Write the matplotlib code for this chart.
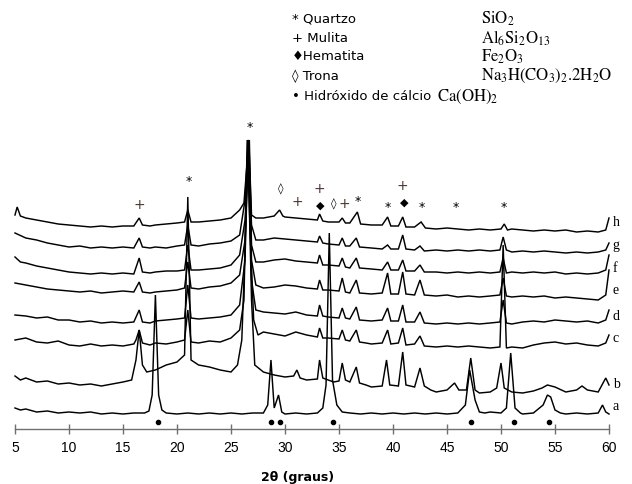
import matplotlib
matplotlib.use("Agg")
import matplotlib.pyplot as plt

plt.rcParams['mathtext.fontset'] = 'stix'

# ---------------- data (2theta in degrees, intensity in a.u.) ----------------
trace_labels = ['a', 'b', 'c', 'd', 'e', 'f', 'g', 'h']
# vertical stacking offsets of each pattern (a.u.)
offsets = [69, 94, 139, 162, 189, 212, 234, 256]

a_x = [5, 5.5, 6, 7, 8, 9, 10, 11, 12, 13, 14, 15, 16, 17, 17.4, 17.7, 18.0, 18.3, 18.6, 19,
       20, 21, 22, 23, 24, 25, 26, 27, 28, 28.4, 28.7, 29.0, 29.4, 29.7, 30, 31, 32, 33, 33.5, 33.8,
       34.1, 34.4, 34.8, 35.3, 36, 37, 38, 39, 40, 41, 42, 43, 44, 45, 46, 46.7, 47.1, 47.6, 48, 48.5,
       49, 50, 50.5, 50.9, 51.3, 51.8, 52, 53, 53.9, 54.3, 54.6, 55, 55.5, 56, 57, 58, 59, 59.4, 59.7, 60]
a_y = [7, 5, 6, 3, 4, 2, 3, 2, 3, 1, 2, 1, 2, 2, 4, 20, 120, 20, 5, 2,
       1, 2, 1, 2, 1, 2, 1, 2, 2, 10, 55, 7, 20, 3, 1, 2, 1, 2, 7, 30,
       182, 35, 10, 3, 2, 1, 2, 1, 2, 1, 2, 1, 2, 1, 2, 10, 45, 15, 3, 2,
       3, 2, 7, 62, 7, 2, 1, 2, 10, 20, 18, 5, 2, 1, 2, 1, 2, 10, 3, 1]

b_x = [5, 5.5, 6, 7, 8, 9, 10, 11, 12, 13, 14, 15, 15.8, 16.2, 16.5, 16.8, 17.2, 18, 19, 20,
       20.7, 21.0, 21.3, 22, 23, 24, 25, 25.6, 26.0, 26.3, 26.55, 26.9, 27.2, 28, 29, 30, 30.8, 31.1, 31.4, 32,
       33, 33.2, 33.5, 34, 34.5, 35, 35.3, 35.6, 36, 36.6, 36.9, 37.5, 38, 39, 39.4, 39.7, 40.5, 40.9, 41.2, 42,
       42.5, 42.9, 43.5, 44, 45, 45.7, 46.1, 46.8, 47.2, 47.6, 48, 49, 49.6, 50.0, 50.3, 51, 52, 53, 53.8, 54.3,
       55, 56, 57, 57.5, 58, 59, 59.5, 59.7, 60]
b_y = [14, 10, 12, 8, 9, 6, 7, 5, 6, 4, 6, 8, 10, 30, 60, 25, 18, 20, 25, 28,
       35, 193, 30, 25, 23, 20, 18, 25, 50, 140, 250, 90, 25, 18, 15, 13, 14, 20, 12, 10,
       11, 30, 12, 10, 8, 9, 27, 10, 8, 23, 7, 5, 3, 4, 30, 5, 4, 38, 5, 3,
       22, 4, 0, -2, 0, 7, 0, 0, 32, 0, -3, -2, 2, 27, 2, -2, -3, -1, 2, 5,
       3, -2, 0, 4, 0, -2, 8, 12, 5]

c_x = [5, 6, 7, 8, 9, 10, 11, 12, 13, 14, 15, 16, 16.2, 16.5, 16.8, 17.5, 18, 19, 20, 20.7,
       21.0, 21.3, 22, 23, 24, 25, 25.8, 26.2, 26.5, 26.8, 27.1, 27.5, 28, 29, 30, 31, 32, 33, 33.2, 33.5,
       34, 35, 35.3, 35.6, 36, 36.6, 36.9, 37.5, 38, 39, 39.5, 39.8, 40.5, 40.9, 41.2, 42, 42.5, 42.9, 44, 45,
       46, 47, 48, 49, 49.9, 50.2, 50.5, 51, 52, 53, 54, 55, 56, 57, 58, 59, 59.7, 60]
c_y = [5, 7, 3, 2, 4, 0, -1, 1, -1, 0, -1, 1, 5, 15, 2, 0, 2, 1, 3, 5,
       35, 3, 2, 4, 3, 7, 15, 45, 205, 105, 25, 10, 13, 11, 9, 13, 10, 8, 17, 7,
       7, 6, 15, 5, 4, 15, 3, 2, 1, 2, 15, 1, 2, 17, 0, 1, 9, -1, -2, -1,
       -2, -1, -2, -3, -2, 100, -3, -2, -3, 0, 2, 3, 1, 2, 0, -1, 2, 10]

d_x = [5, 6, 7, 8, 9, 10, 11, 12, 13, 14, 15, 16, 16.5, 16.8, 17.5, 18, 19, 20, 20.7, 21.0,
       21.3, 22, 23, 24, 25, 25.8, 26.3, 26.6, 26.9, 27.3, 28, 29, 30, 31, 32, 33, 33.2, 33.5, 34, 35,
       35.3, 35.6, 36, 36.6, 36.9, 38, 39, 39.5, 39.8, 40.5, 40.9, 41.2, 42, 42.5, 42.9, 44, 45, 46, 47, 48,
       49, 49.9, 50.2, 50.5, 51, 52, 53, 54, 55, 56, 57, 58, 59, 59.7, 60]
d_y = [7, 6, 4, 5, 2, 2, 0, 1, -1, 0, -1, 0, 12, 0, -1, 1, 2, 3, 4, 37,
       4, 3, 4, 5, 7, 17, 62, 182, 42, 12, 10, 9, 8, 10, 7, 6, 17, 6, 5, 4,
       14, 4, 3, 15, 2, 1, 2, 14, 1, 1, 17, 0, 0, 10, -1, -2, -1, -2, -1, -2,
       -1, 0, 22, -1, -2, 0, 1, 0, 2, 1, 0, 1, -1, 2, 12]

e_x = [5, 6, 7, 8, 9, 10, 11, 12, 13, 14, 15, 16, 16.5, 16.8, 17.5, 18, 19, 20, 20.7, 21.0,
       21.3, 22, 23, 24, 25, 25.8, 26.3, 26.65, 26.9, 27.3, 28, 29, 30, 31, 32, 33, 33.2, 33.5, 34, 35,
       35.3, 35.6, 36, 36.6, 36.9, 38, 39, 39.5, 39.8, 40.5, 40.9, 41.2, 42, 42.5, 42.9, 44, 45, 46, 47, 48,
       49, 49.9, 50.2, 50.5, 51, 52, 53, 54, 55, 56, 57, 58, 59, 59.7, 60]
e_y = [12, 10, 8, 6, 5, 4, 3, 4, 2, 3, 4, 3, 13, 3, 2, 3, 4, 5, 7, 33,
       7, 6, 8, 9, 12, 20, 55, 155, 35, 10, 7, 8, 10, 9, 7, 6, 15, 5, 5, 4,
       17, 3, 2, 15, 2, 1, 2, 22, 1, 1, 23, 1, 0, 15, 0, -1, 0, -2, -1, -2,
       -1, 0, 17, -1, -2, -1, -2, -1, -3, -2, -3, -4, -5, 0, 25]

f_x = [5, 5.5, 6, 7, 8, 9, 10, 11, 12, 13, 14, 15, 16, 16.5, 16.8, 17.5, 18, 19, 20, 20.7,
       21.0, 21.3, 22, 23, 24, 25, 25.8, 26.3, 26.7, 26.9, 27.3, 28, 29, 30, 31, 32, 33, 33.2, 33.5, 34,
       35, 35.3, 35.6, 36, 36.6, 36.9, 38, 39, 39.5, 39.8, 40.5, 40.9, 41.2, 42, 42.5, 42.9, 44, 45, 46, 47,
       48, 49, 49.9, 50.2, 50.5, 51, 52, 53, 54, 55, 56, 57, 58, 59, 59.7, 60]
f_y = [15, 10, 9, 6, 4, 2, 0, -1, -2, -1, -2, -1, -2, 14, 0, -1, 0, 1, 1, 2,
       27, 2, 2, 3, 4, 7, 17, 52, 132, 27, 10, 10, 12, 13, 11, 10, 9, 17, 7, 7,
       6, 14, 5, 4, 14, 4, 3, 2, 10, 2, 2, 12, 1, 1, 7, 0, 0, -1, 0, -1,
       0, -1, 0, 14, -1, 0, -1, 0, -1, 0, -2, -1, -2, -1, 2, 17]

g_x = [5, 6, 7, 8, 9, 10, 11, 12, 13, 14, 15, 16, 16.5, 16.8, 17.5, 18, 19, 20, 20.7, 21.0,
       21.3, 22, 23, 24, 25, 25.8, 26.3, 26.6, 26.9, 27.3, 28, 29, 30, 31, 32, 33, 33.2, 33.5, 34, 35,
       35.3, 35.6, 36, 36.6, 36.9, 38, 39, 39.5, 39.8, 40.5, 40.9, 41.2, 42, 42.5, 42.9, 44, 45, 46, 47, 48,
       49, 49.9, 50.2, 50.5, 51, 52, 53, 54, 55, 56, 57, 58, 59, 59.7, 60]
g_y = [17, 12, 10, 7, 5, 3, 4, 2, 3, 2, 3, 2, 12, 3, 2, 3, 2, 4, 5, 25,
       5, 4, 6, 7, 9, 15, 50, 110, 25, 10, 10, 12, 11, 10, 9, 8, 14, 7, 6, 5,
       12, 4, 4, 12, 3, 2, 1, 5, 1, 1, 15, 1, 0, 4, -1, 0, -1, 0, -1, 0,
       -1, 0, 13, 0, -2, -1, -2, -1, -2, -3, -2, -3, -2, 0, 7]

h_x = [5, 5.2, 5.5, 6, 7, 8, 9, 10, 11, 12, 13, 14, 15, 16, 16.5, 16.8, 17.5, 18, 19, 20,
       20.7, 21.0, 21.3, 22, 23, 24, 25, 25.8, 26.2, 26.65, 26.9, 27.3, 28, 29, 29.5, 29.8, 30, 31, 32, 33,
       33.2, 33.5, 34, 35, 35.3, 35.6, 36, 36.7, 37, 38, 39, 39.5, 39.8, 40.5, 40.9, 41.2, 42, 42.6, 43, 44,
       45, 46, 47, 48, 49, 50, 50.3, 50.6, 51, 52, 53, 54, 55, 56, 57, 58, 59, 59.7, 60]
h_y = [13, 21, 12, 10, 8, 6, 4, 3, 2, 1, 2, 1, 2, 2, 10, 3, 2, 3, 4, 5,
       6, 18, 6, 6, 7, 8, 10, 18, 25, 88, 13, 10, 10, 12, 18, 12, 11, 10, 9, 8,
       14, 7, 6, 6, 10, 5, 5, 16, 4, 3, 3, 11, 2, 2, 11, 1, 1, 6, 0, -1,
       0, -1, -2, -1, -2, -1, 4, -2, -1, -2, -3, -2, -3, -2, -4, -3, -4, -2, 10]

traces_x = [a_x, b_x, c_x, d_x, e_x, f_x, g_x, h_x]
traces_y = [a_y, b_y, c_y, d_y, e_y, f_y, g_y, h_y]

# phase identification marks: (symbol, 2theta, height a.u.)
phase_marks = [('+', 16.5, 279), ('*', 21.1, 302), ('*', 26.7, 357), ('\u25CA', 29.6, 295),
               ('+', 31.1, 282), ('+', 33.2, 295), ('\u25C6', 33.3, 278), ('\u25CA', 34.5, 280),
               ('+', 35.5, 280), ('*', 36.7, 283), ('*', 39.5, 277), ('+', 40.9, 298),
               ('\u25C6', 41.0, 281), ('*', 42.7, 277), ('*', 45.8, 277), ('*', 50.3, 276)]
caoh2_pos = [18.2, 28.7, 29.5, 34.4, 47.2, 51.2, 54.4]
caoh2_level = 62

xticks = [5, 10, 15, 20, 25, 30, 35, 40, 45, 50, 55, 60]

legend_names = ['* Quartzo', '+ Mulita', '\u2666Hematita', '\u25CA Trona', '\u2022 Hidr\u00f3xido de c\u00e1lcio']
legend_formulas = [r'$\mathrm{SiO_2}$', r'$\mathrm{Al_6Si_2O_{13}}$', r'$\mathrm{Fe_2O_3}$',
                   r'$\mathrm{Na_3H(CO_3)_2.2H_2O}$', r'$\mathrm{Ca(OH)_2}$']

# ---------------- figure ----------------
W, H = 632, 484
fig = plt.figure(figsize=(W / 100, H / 100), dpi=100)
ax = fig.add_axes([0, 0, 1, 1])
ax.set_xlim(3.611, 62.13)
ax.set_ylim(0, 484)

for xs, ys, off in zip(traces_x, traces_y, offsets):
    ax.plot(xs, [v + off for v in ys], color='black', lw=1.05, solid_joinstyle='miter')

for lab, off in zip(trace_labels, offsets):
    ax.text(60.35, off + (8 if lab == 'a' else 6 if lab in 'bcdh' else 4), lab,
            family='Liberation Serif', fontsize=10, va='center', ha='left')

for sym, x, y in phase_marks:
    col = '#4a3530' if sym == '+' else 'black'
    fs = 10 if sym == '+' else (9 if sym == '*' else 8)
    ax.text(x, y, sym, ha='center', va='center', fontsize=fs, color=col, family='DejaVu Sans')

ax.plot(caoh2_pos, [caoh2_level] * len(caoh2_pos), 'o', color='black', ms=3)

# axis
for s in ['top', 'left', 'right']:
    ax.spines[s].set_visible(False)
ax.spines['bottom'].set_position(('data', 55))
ax.spines['bottom'].set_bounds(5, 60)
ax.spines['bottom'].set_color('#707070')
ax.spines['bottom'].set_linewidth(1.0)
ax.set_yticks([])
ax.set_xticks(xticks)
ax.set_xticklabels([str(t) for t in xticks], family='Liberation Sans', fontsize=10)
ax.tick_params(axis='x', direction='inout', length=7, width=1.0, color='#707070', pad=5)
ax.patch.set_visible(False)

fig.text(298 / W, 1 - 477 / H, '2\u03b8 (graus)', ha='center', va='center',
         fontsize=9, fontweight='bold', family='DejaVu Sans')

rows = [19, 38, 57, 76, 97]
for i, (nm, fm) in enumerate(zip(legend_names, legend_formulas)):
    yy = 1 - rows[i] / H
    fig.text(292 / W, yy, nm, ha='left', va='center', fontsize=9.5, family='DejaVu Sans')
    fx = 437 if i == 4 else 481
    fig.text(fx / W, yy, fm, ha='left', va='center', fontsize=12)

fig.savefig('out.png', dpi=100)
